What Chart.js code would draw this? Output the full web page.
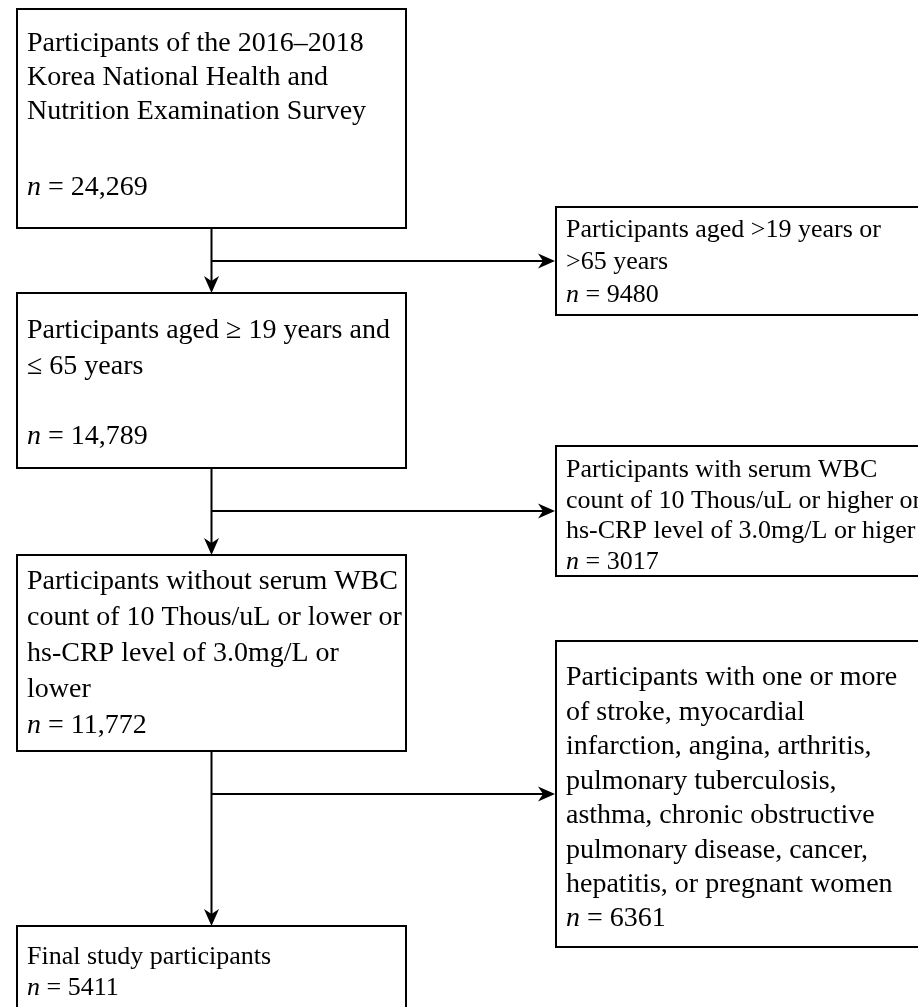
<!DOCTYPE html>
<html><head><meta charset="utf-8">
<script src="https://cdn.jsdelivr.net/npm/chart.js@4.4.1/dist/chart.umd.min.js"></script>
<style>html,body{margin:0;padding:0;background:#fff}#wrap{width:918px;height:1007px;position:relative}</style>
</head><body><div id="wrap"><canvas id="c"></canvas></div>
<script>
// ---- data ----
const stepLabels = [
  ["Participants of the 2016–2018", "Korea National Health and", "Nutrition Examination Survey"],
  ["Participants aged ≥ 19 years and", "≤ 65 years"],
  ["Participants without serum WBC", "count of 10 Thous/uL or lower or", "hs-CRP level of 3.0mg/L or", "lower"],
  ["Final study participants"]
];
const stepCounts = ["24,269", "14,789", "11,772", "5411"];
const exclusionLabels = [
  ["Participants aged >19 years or", ">65 years"],
  ["Participants with serum WBC", "count of 10 Thous/uL or higher or", "hs-CRP level of 3.0mg/L or higer"],
  ["Participants with one or more", "of stroke, myocardial", "infarction, angina, arthritis,", "pulmonary tuberculosis,", "asthma, chronic obstructive", "pulmonary disease, cancer,", "hepatitis, or pregnant women"]
];
const exclusionCounts = ["9480", "3017", "6361"];

// ---- layout (positions / sizes / styles) ----
const stepLayout = [
  {x0:17, y0:9,   x1:406, y1:228,  first:44,  gap:34,   count:188, font:28},
  {x0:17, y0:293, x1:406, y1:468,  first:331, gap:36,   count:437, font:28},
  {x0:17, y0:555, x1:406, y1:751,  first:582, gap:36,   count:726, font:28},
  {x0:17, y0:926, x1:406, y1:1030, first:957, gap:31,   count:988, font:26}
];
const exclLayout = [
  {x0:556, y0:207, x1:940, y1:315, first:230, gap:32.5, count:295, font:26, branch:261},
  {x0:556, y0:446, x1:940, y1:576, first:470, gap:30.7, count:562, font:26, branch:511},
  {x0:556, y0:641, x1:940, y1:947, first:678, gap:34.5, count:919, font:28, branch:794}
];
const spineX = 211.5;
const textPad = 10;
const arrowLen = 17, arrowHalf = 7.5;
const FONT = '"Liberation Serif","Times New Roman",serif';

// connectors as line datasets
const datasets = [];
function seg(a, b){
  datasets.push({data:[a,b], showLine:true, borderColor:'#000', borderWidth:2, pointRadius:0, fill:false});
}
for (let i = 0; i < stepLayout.length - 1; i++) {
  seg({x:spineX, y:stepLayout[i].y1}, {x:spineX, y:stepLayout[i+1].y0 - 4});
  seg({x:spineX, y:exclLayout[i].branch}, {x:exclLayout[i].x0 - 4, y:exclLayout[i].branch});
}

const flowPlugin = {
  id: 'flow',
  afterDatasetsDraw(chart) {
    const ctx = chart.ctx, xs = chart.scales.x, ys = chart.scales.y;
    const X = v => xs.getPixelForValue(v), Y = v => ys.getPixelForValue(v);
    ctx.save();
    ctx.fillStyle = '#000'; ctx.strokeStyle = '#000';
    function box(L, lines, count) {
      ctx.lineWidth = 2;
      ctx.strokeRect(X(L.x0), Y(L.y0), X(L.x1) - X(L.x0), Y(L.y1) - Y(L.y0));
      ctx.textBaseline = 'middle'; ctx.textAlign = 'left';
      ctx.font = L.font + 'px ' + FONT;
      const tx = X(L.x0 + textPad);
      lines.forEach((t, k) => ctx.fillText(t, tx, Y(L.first + k * L.gap)));
      ctx.font = 'italic ' + L.font + 'px ' + FONT;
      ctx.fillText('n', tx, Y(L.count));
      const w = ctx.measureText('n').width;
      ctx.font = L.font + 'px ' + FONT;
      ctx.fillText(' = ' + count, tx + w, Y(L.count));
    }
    function arrowDown(x, y) {
      ctx.beginPath();
      ctx.moveTo(X(x), Y(y));
      ctx.lineTo(X(x) - arrowHalf, Y(y) - arrowLen);
      ctx.lineTo(X(x), Y(y) - arrowLen + 5);
      ctx.lineTo(X(x) + arrowHalf, Y(y) - arrowLen);
      ctx.closePath(); ctx.fill();
    }
    function arrowRight(x, y) {
      ctx.beginPath();
      ctx.moveTo(X(x), Y(y));
      ctx.lineTo(X(x) - arrowLen, Y(y) - arrowHalf);
      ctx.lineTo(X(x) - arrowLen + 5, Y(y));
      ctx.lineTo(X(x) - arrowLen, Y(y) + arrowHalf);
      ctx.closePath(); ctx.fill();
    }
    stepLayout.forEach((L, i) => box(L, stepLabels[i], stepCounts[i]));
    exclLayout.forEach((L, i) => box(L, exclusionLabels[i], exclusionCounts[i]));
    for (let i = 1; i < stepLayout.length; i++) arrowDown(spineX, stepLayout[i].y0);
    exclLayout.forEach(L => arrowRight(L.x0 - 1, L.branch));
    ctx.restore();
  }
};

new Chart(document.getElementById('c'), {
  type: 'scatter',
  data: { datasets },
  options: {
    responsive: true, maintainAspectRatio: false, animation: false, events: [],
    layout: { padding: 0 },
    plugins: { legend: {display:false}, tooltip: {enabled:false} },
    scales: {
      x: { type:'linear', min:0, max:918, display:false },
      y: { type:'linear', min:0, max:1007, reverse:true, display:false }
    }
  },
  plugins: [flowPlugin]
});
</script>
</body></html>
